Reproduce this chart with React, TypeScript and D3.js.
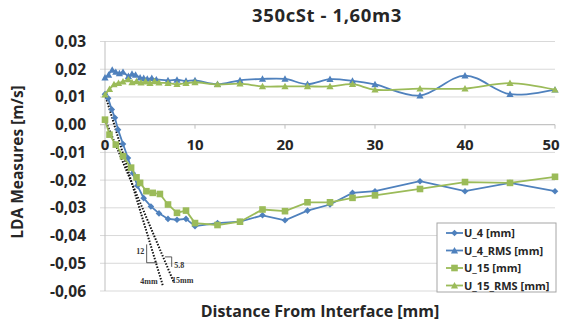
import React from "react";
import * as d3 from "d3";

const W = 562, H = 324;
const FONT = "'Open Sans', Lato, sans-serif";

const xTicks = [0, 10, 20, 30, 40, 50];
const yTicks = [0.03, 0.02, 0.01, 0.0, -0.01, -0.02, -0.03, -0.04, -0.05, -0.06];

const seriesNames = ["U_4 [mm]", "U_4_RMS [mm]", "U_15 [mm]", "U_15_RMS [mm]"];

const u4X = [0, 0.35, 0.75, 1.1, 1.45, 2, 2.55, 3.1, 3.6, 4.3, 5.1, 6, 7, 8, 9, 10, 12.5, 15, 17.5, 20, 22.5, 25, 27.5, 30, 35, 40, 45, 50];
const u4Y = [0.011, 0.0095, 0.0055, 0.0025, -0.0018, -0.007, -0.012, -0.0175, -0.022, -0.0265, -0.0295, -0.032, -0.034, -0.0343, -0.034, -0.0366, -0.0355, -0.035, -0.0327, -0.0345, -0.031, -0.0288, -0.0246, -0.024, -0.0204, -0.024, -0.021, -0.024];

const u4rmsX = [0, 0.4, 0.8, 1.2, 1.6, 2, 2.6, 3, 3.4, 3.9, 4.3, 4.7, 5.2, 5.7, 7, 8, 9, 10, 12.5, 15, 17.5, 20, 22.5, 25, 27.5, 30, 35, 40, 45, 50];
const u4rmsY = [0.017, 0.018, 0.0198, 0.019, 0.0185, 0.019, 0.0175, 0.0183, 0.018, 0.017, 0.0168, 0.0165, 0.0168, 0.0163, 0.016, 0.0162, 0.0158, 0.016, 0.0146, 0.016, 0.0165, 0.0165, 0.0146, 0.0164, 0.0158, 0.0145, 0.0105, 0.0177, 0.011, 0.0126];

const u15X = [0, 0.5, 1.2, 2, 2.9, 3.5, 3.9, 4.6, 5.3, 6.1, 7, 8, 9, 10, 12.5, 15, 17.5, 20, 22.5, 25, 27.5, 30, 35, 40, 45, 50];
const u15Y = [0.0018, -0.0036, -0.0072, -0.0114, -0.0155, -0.019, -0.021, -0.024, -0.0246, -0.025, -0.0288, -0.0318, -0.031, -0.0355, -0.0362, -0.035, -0.0306, -0.0312, -0.028, -0.028, -0.0264, -0.0255, -0.0232, -0.0207, -0.021, -0.0188];

const u15rmsX = [0, 0.5, 1, 1.5, 2, 2.6, 3, 3.5, 4, 4.5, 5, 5.5, 6, 7, 8, 9, 10, 12.5, 15, 17.5, 20, 22.5, 25, 27.5, 30, 35, 40, 45, 50];
const u15rmsY = [0.0108, 0.0128, 0.0145, 0.015, 0.0155, 0.0163, 0.0153, 0.0156, 0.0152, 0.0155, 0.015, 0.0156, 0.0152, 0.015, 0.0146, 0.015, 0.0153, 0.0145, 0.0148, 0.0138, 0.0138, 0.0138, 0.0138, 0.0146, 0.0126, 0.013, 0.013, 0.015, 0.0126];

// tangent annotation lines (data units)
const tan4 = [[0, 0.011], [6.44, -0.0582]];
const tan15 = [[0, 0.0018], [7.6, -0.0565]];
const tri12 = [[4.63, -0.0432], [4.63, -0.0498], [5.8, -0.0498]];
const tri58 = [[6.67, -0.0477], [7.41, -0.0477], [7.41, -0.0513]];

const BLUE = "#4F81BD";
const GREEN = "#9BBB59";
const TXT = "#262626";

export default function App() {
  const x = d3.scaleLinear().domain([0, 50]).range([105, 555]);
  const y = d3.scaleLinear().domain([-0.06, 0.03]).range([291, 41.5]);
  const fmt = (v: number) => v.toFixed(2).replace(".", ",").replace("-0,00", "0,00");

  const lineLin = d3.line<number[]>().x(d => x(d[0])).y(d => y(d[1]));
  const lineSmooth = d3.line<number[]>().x(d => x(d[0])).y(d => y(d[1])).curve(d3.curveCatmullRom.alpha(0.5));

  const zip = (a: number[], b: number[]) => a.map((v, i) => [v, b[i]]);
  const series = [
    { name: seriesNames[0], data: zip(u4X, u4Y), color: BLUE, marker: "diamond", smooth: false },
    { name: seriesNames[1], data: zip(u4rmsX, u4rmsY), color: BLUE, marker: "triangle", smooth: true },
    { name: seriesNames[2], data: zip(u15X, u15Y), color: GREEN, marker: "square", smooth: false },
    { name: seriesNames[3], data: zip(u15rmsX, u15rmsY), color: GREEN, marker: "triangle", smooth: true },
  ];

  const marker = (type: string, cx: number, cy: number, color: string, key: any) => {
    if (type === "diamond") {
      const s = 3.3;
      return <path key={key} d={`M${cx},${cy - s}L${cx + s},${cy}L${cx},${cy + s}L${cx - s},${cy}Z`} fill={color} />;
    }
    if (type === "square") {
      const s = 3.3;
      return <rect key={key} x={cx - s} y={cy - s} width={2 * s} height={2 * s} fill={color} />;
    }
    const s = 3.6;
    return <path key={key} d={`M${cx},${cy - s}L${cx + s},${cy + s * 0.8}L${cx - s},${cy + s * 0.8}Z`} fill={color} />;
  };

  const legendX = 437, legendY = 223;
  const annFont = "'Liberation Serif', serif";

  return (
    <svg width={W} height={H} style={{ position: "absolute", left: 0, top: 0, background: "#fff" }} fontFamily={FONT}>
      <rect width={W} height={H} fill="#fff" />
      <text x={327} y={22} textAnchor="middle" fontSize={18.5} letterSpacing={0.6} fontWeight="bold" fill={TXT}>350cSt - 1,60m3</text>
      {yTicks.map(t => (
        <line key={t} x1={100} x2={555} y1={y(t)} y2={y(t)} stroke="#d9d9d9" strokeWidth={1} />
      ))}
      <line x1={105} x2={105} y1={y(0.03)} y2={y(-0.06)} stroke="#bfbfbf" strokeWidth={1} />
      <line x1={100} x2={555} y1={y(0)} y2={y(0)} stroke="#bfbfbf" strokeWidth={1} />
      {xTicks.map(t => (
        <line key={t} x1={x(t)} x2={x(t)} y1={y(0)} y2={y(0) + 4} stroke="#bfbfbf" />
      ))}
      {yTicks.map(t => (
        <text key={t} x={86} y={y(t) + 5.5} textAnchor="end" fontSize={15.5} fontWeight="bold" fill={TXT}>{fmt(t)}</text>
      ))}
      {xTicks.map(t => (
        <text key={t} x={Math.min(x(t), W - 11)} y={y(0) + 25} textAnchor="middle" fontSize={15} fontWeight="bold" fill={TXT}>{t}</text>
      ))}
      <text transform={`translate(23,${162}) rotate(-90)`} textAnchor="middle" fontSize={15.5} fontWeight="bold" fill={TXT}>LDA Measures [m/s]</text>
      <text x={320} y={317} textAnchor="middle" fontSize={16} fontWeight="bold" fill={TXT}>Distance From Interface [mm]</text>

      <path d={lineLin(tan4) || ""} stroke="#111" strokeWidth={2} strokeDasharray="1.5,1.5" fill="none" />
      <path d={lineLin(tan15) || ""} stroke="#111" strokeWidth={2} strokeDasharray="1.5,1.5" fill="none" />
      <path d={lineLin(tri12) || ""} stroke="#333" strokeWidth={0.8} fill="none" />
      <path d={lineLin(tri58) || ""} stroke="#333" strokeWidth={0.8} fill="none" />
      <text x={x(4.35)} y={y(-0.0465)} textAnchor="end" fontSize={8} fontWeight="bold" fontFamily={annFont} fill="#333">12</text>
      <text x={x(7.7)} y={y(-0.0518)} fontSize={8} fontWeight="bold" fontFamily={annFont} fill="#333">5.8</text>
      <text x={x(5.85)} y={y(-0.0574)} textAnchor="end" fontSize={8} fontWeight="bold" fontFamily={annFont} fill="#333">4mm</text>
      <text x={x(7.45)} y={y(-0.0572)} fontSize={8} fontWeight="bold" fontFamily={annFont} fill="#333">15mm</text>

      {series.map((s, i) => (
        <g key={i}>
          <path d={(s.smooth ? lineSmooth : lineLin)(s.data) || ""} fill="none" stroke={s.color} strokeWidth={1.8} />
          {s.data.map((d, j) => marker(s.marker, x(d[0]), y(d[1]), s.color, j))}
        </g>
      ))}

      <rect x={legendX} y={legendY} width={119} height={69} fill="#fff" stroke="#a6a6a6" strokeWidth={1} />
      {series.map((s, i) => {
        const ly = legendY + 10 + i * 17.5;
        return (
          <g key={i}>
            <line x1={legendX + 9} x2={legendX + 26} y1={ly} y2={ly} stroke={s.color} strokeWidth={1.8} />
            {marker(s.marker, legendX + 17.5, ly, s.color, "m")}
            <text x={legendX + 27} y={ly + 4} fontSize={11} fontWeight="bold" fill={TXT}>{s.name}</text>
          </g>
        );
      })}
    </svg>
  );
}
